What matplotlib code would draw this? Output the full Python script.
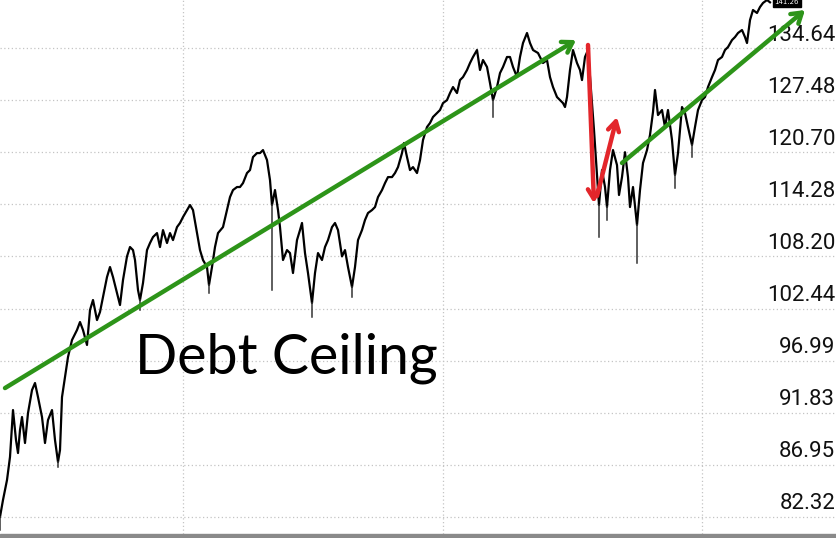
import matplotlib
matplotlib.use("Agg")
import matplotlib.pyplot as plt
import matplotlib.transforms as mtransforms

# trading day index and closing price
days = [0, 3, 7, 10, 13, 16, 18, 20, 22, 25, 28, 32, 35, 38, 42, 45, 48, 52, 55, 58,
        60, 62, 65, 68, 72, 77, 80, 83, 87, 90, 93, 97, 100, 103, 107, 110, 113, 117, 120, 123,
        127, 130, 133, 135, 138, 140, 143, 147, 150, 153, 157, 160, 163, 167, 170, 173, 177, 180, 183, 187,
        190, 193, 197, 200, 203, 207, 209, 212, 215, 218, 223, 227, 230, 233, 237, 240, 243, 247, 250, 253,
        257, 260, 263, 267, 270, 272, 275, 278, 280, 283, 287, 290, 293, 297, 300, 302, 305, 308, 312, 315,
        318, 322, 325, 328, 332, 335, 338, 342, 345, 348, 352, 355, 358, 362, 365, 368, 372, 375, 378, 382,
        385, 388, 392, 395, 398, 402, 404, 407, 410, 413, 417, 420, 423, 427, 430, 433, 437, 440, 443, 447,
        450, 453, 457, 460, 463, 467, 470, 473, 477, 480, 483, 487, 490, 493, 497, 500, 503, 507, 510, 513,
        517, 520, 523, 527, 530, 533, 538, 543, 547, 550, 553, 557, 560, 563, 565, 567, 570, 573, 577, 580,
        582, 585, 588, 591, 594, 597, 599, 602, 605, 607, 610, 613, 617, 619, 622, 625, 628, 630, 633, 637,
        640, 643, 647, 650, 653, 655, 658, 662, 665, 668, 672, 675, 678, 682, 685, 688, 692, 695, 698, 702,
        705, 708, 712, 715, 718, 722, 725, 728, 732, 735, 738, 742, 745, 747, 750, 753, 757, 760, 763, 767,
        770]
close = [82.32, 83.80, 85.57, 87.67, 92.09, 89.24, 88.03, 90.18, 91.42, 88.96, 91.80, 94.04, 94.74, 93.35, 91.42, 88.96, 91.13, 92.09, 89.24, 87.21,
         88.31, 93.35, 95.34, 97.36, 99.11, 100.16, 101.00, 100.16, 98.60, 102.28, 103.36, 101.21, 102.07, 103.69, 105.88, 107.00, 105.88, 104.12, 102.82, 105.55,
         108.20, 109.27, 108.92, 107.79, 104.45, 103.36, 105.22, 108.92, 109.73, 110.42, 110.88, 109.27, 111.23, 109.73, 110.88, 110.07, 111.58, 112.06, 112.76, 113.59,
         114.19, 113.59, 110.88, 108.92, 107.79, 107.00, 105.00, 107.00, 109.27, 110.88, 111.58, 113.59, 115.15, 116.00, 116.37, 116.37, 116.85, 118.09, 118.46, 120.09,
         120.59, 120.59, 120.97, 119.71, 117.22, 114.19, 116.00, 113.59, 111.58, 107.79, 108.92, 108.58, 106.33, 110.07, 111.23, 112.06, 108.58, 106.33, 103.04, 106.33,
         108.58, 107.79, 109.27, 110.07, 111.58, 112.06, 111.23, 108.20, 108.92, 107.00, 104.78, 107.00, 110.07, 111.23, 112.41, 113.24, 113.59, 113.95, 115.15, 116.00,
         116.85, 117.59, 117.59, 118.09, 118.83, 120.59, 121.87, 120.09, 118.46, 118.83, 118.09, 119.71, 122.25, 123.93, 124.45, 125.24, 125.76, 126.16, 127.08, 127.48,
         128.43, 129.24, 128.43, 130.19, 130.60, 131.57, 132.54, 133.38, 134.36, 131.57, 132.96, 131.99, 129.78, 127.48, 129.24, 131.15, 131.99, 133.38, 133.38, 131.99,
         130.60, 133.38, 135.35, 136.78, 135.35, 134.36, 133.94, 132.54, 132.96, 130.60, 129.24, 127.89, 127.48, 127.08, 126.56, 127.89, 131.57, 134.36, 132.54, 131.57,
         130.19, 133.38, 134.36, 128.84, 123.54, 117.84, 114.19, 118.46, 116.37, 113.95, 118.46, 120.97, 119.08, 115.40, 117.59, 120.70, 117.59, 113.95, 116.37, 111.82,
         116.00, 119.34, 120.97, 122.90, 125.90, 128.84, 125.50, 126.16, 123.93, 126.16, 122.25, 117.84, 120.59, 126.56, 125.76, 123.93, 121.61, 123.93, 126.16, 127.48,
         127.89, 129.24, 130.60, 131.57, 132.96, 133.38, 134.36, 134.78, 135.77, 136.20, 136.78, 137.21, 136.20, 135.35, 138.65, 140.12, 139.68, 140.56, 141.16, 141.60,
         141.26]

# intraday lows that poke out below the line
spike_days = [0, 58, 140, 209, 272, 312, 352, 493, 599, 607, 637, 675, 692]
spike_lows = [81.20, 86.75, 102.28, 104.12, 104.45, 101.53, 103.69, 125.24, 110.42, 112.41, 107.45, 116.25, 120.09]

price_ticks = [82.32, 86.95, 91.83, 96.99, 102.44, 108.20, 114.28, 120.70, 127.48, 134.64]
year_starts = [183, 443, 702]

# annotations: (start day, start price, end day, end price)
green_arrows = [(5, 94.24, 576, 135.77), (622, 119.34, 805, 140.12)]
red_arrows = [(588, 135.07, 594, 114.40), (597, 115.27, 617, 125.24)]
note_day, note_price = 135, 95.70
last_price = 141.26

fig = plt.figure(figsize=(8.37, 5.38), dpi=100)
ax = fig.add_axes([0, 4 / 538, 1, 534 / 538])
ax.set_yscale("log")
ax.set_xlim(0, 837)
ax.set_ylim(80.86, 141.60)
ax.set_axis_off()

grid_kw = dict(color="#c4c4c4", lw=0.9, ls=(0, (1, 2)), zorder=0)
for p in price_ticks:
    ax.axhline(p, **grid_kw)
for d in year_starts:
    ax.axvline(d, **grid_kw)

ax.plot(days, close, color="black", lw=1.6, zorder=2)
for d, lo in zip(spike_days, spike_lows):
    ax.plot([d, d], [lo, close[days.index(d)]], color="#333333", lw=1.1, zorder=2)

label_trans = mtransforms.offset_copy(ax.get_yaxis_transform(), fig=fig, y=13, units="dots")
for p in price_ticks:
    ax.text(0.998, p, f"{p:.2f}", transform=label_trans, ha="right", va="center",
            fontsize=16, family="Roboto", color="#111111")

ax.text(0.94, last_price, f"{last_price:.2f}", transform=ax.get_yaxis_transform(), ha="center", va="center",
        fontsize=5, color="white", bbox=dict(boxstyle="square,pad=0.25", fc="black", ec="black"), clip_on=False)

for x0, y0, x1, y1 in green_arrows:
    ax.annotate("", xy=(x1, y1), xytext=(x0, y0),
                arrowprops=dict(arrowstyle="->,head_length=0.7,head_width=0.45", color="#2d9419", lw=3.2,
                                shrinkA=0, shrinkB=0), zorder=4)
for x0, y0, x1, y1 in red_arrows:
    ax.annotate("", xy=(x1, y1), xytext=(x0, y0),
                arrowprops=dict(arrowstyle="->,head_length=0.7,head_width=0.4", color="#e3262b", lw=3.2,
                                shrinkA=0, shrinkB=0), zorder=4)

ax.text(note_day, note_price, "Debt Ceiling", fontsize=40, family="Lato", ha="left", va="baseline", zorder=5)

fig.patches.append(plt.Rectangle((0, 0), 1, 4 / 538, transform=fig.transFigure, color="#8a8a8a"))

fig.savefig("out.png", dpi=100)
